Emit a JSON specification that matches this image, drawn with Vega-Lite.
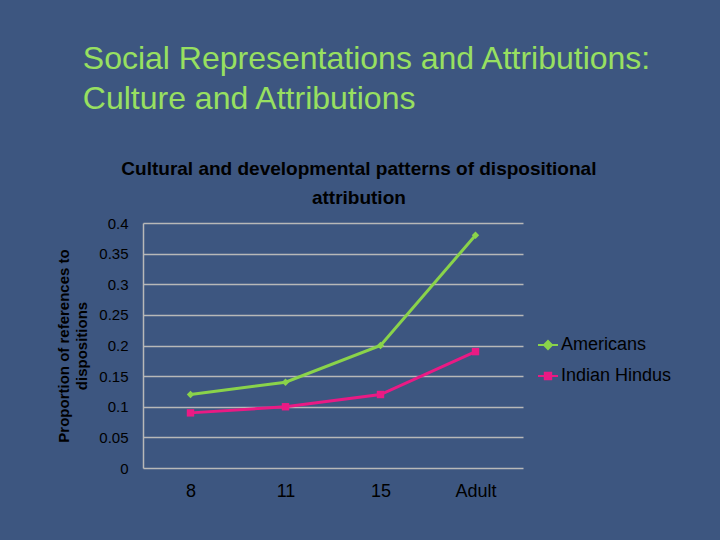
{
  "$schema": "https://vega.github.io/schema/vega-lite/v6.json",
  "description": "Cultural and developmental patterns of dispositional attribution",
  "background": "#3d5680",
  "padding": {"left": 56, "top": 43, "right": 51, "bottom": 41},
  "title": {
    "text": ["Social Representations and Attributions:", "Culture and Attributions"],
    "anchor": "start",
    "frame": "bounds",
    "font": "Liberation Sans",
    "fontSize": 32,
    "fontWeight": "normal",
    "color": "#98e060",
    "lineHeight": 40,
    "dx": 26,
    "offset": 44
  },
  "data": {
    "values": [
      {"age": "8", "group": "Americans", "proportion": 0.12},
      {"age": "11", "group": "Americans", "proportion": 0.14},
      {"age": "15", "group": "Americans", "proportion": 0.2},
      {"age": "Adult", "group": "Americans", "proportion": 0.38},
      {"age": "8", "group": "Indian Hindus", "proportion": 0.09},
      {"age": "11", "group": "Indian Hindus", "proportion": 0.1},
      {"age": "15", "group": "Indian Hindus", "proportion": 0.12},
      {"age": "Adult", "group": "Indian Hindus", "proportion": 0.19}
    ]
  },
  "vconcat": [
    {
      "title": {
        "text": ["Cultural and developmental patterns of dispositional", "attribution"],
        "anchor": "middle",
        "frame": "bounds",
        "font": "Liberation Sans",
        "fontSize": 19,
        "fontWeight": "bold",
        "color": "black",
        "lineHeight": 29,
        "dx": 69,
        "offset": 8
      },
      "width": 380,
      "height": 245,
      "encoding": {
        "x": {
          "field": "age",
          "type": "ordinal",
          "sort": ["8", "11", "15", "Adult"],
          "scale": {"padding": 0.5},
          "axis": {"title": null, "labelAngle": 0, "labelPadding": 14, "labelFontSize": 18, "ticks": false, "domain": false, "grid": false}
        },
        "y": {
          "field": "proportion",
          "type": "quantitative",
          "scale": {"domain": [0, 0.4], "nice": false},
          "axis": {
            "title": ["Proportion of references to", "dispositions"],
            "values": [0, 0.05, 0.1, 0.15, 0.2, 0.25, 0.3, 0.35, 0.4],
            "format": "~g",
            "ticks": false,
            "labelFontSize": 15,
            "labelPadding": 15,
            "titlePadding": 9,
            "titleFont": "Liberation Sans",
            "titleFontSize": 15,
            "titleFontWeight": "bold",
            "titleColor": "black",
            "titleLineHeight": 18
          }
        },
        "color": {
          "field": "group",
          "type": "nominal",
          "scale": {"domain": ["Americans", "Indian Hindus"], "range": ["#8ad34a", "#ea1a84"]},
          "legend": {
            "title": null,
            "orient": "none",
            "legendX": 394,
            "legendY": 111,
            "symbolSize": 400,
            "symbolType": "M-1,0L1,0M0,-0.4L0.4,0L0,0.4L-0.4,0Z",
            "symbolStrokeWidth": 2,
            "labelOffset": 2,
            "labelFontSize": 18,
            "rowPadding": 11,
            "encode": {
              "symbols": {
                "update": {
                  "shape": {"signal": "datum.value === 'Americans' ? 'M-1,0L1,0M0,-0.4L0.4,0L0,0.4L-0.4,0Z' : 'M-1,0L1,0M-0.32,-0.32L0.32,-0.32L0.32,0.32L-0.32,0.32Z'"},
                  "fill": {"signal": "datum.value === 'Americans' ? '#8ad34a' : '#ea1a84'"}
                }
              }
            }
          }
        }
      },
      "layer": [
        {"mark": {"type": "line", "strokeWidth": 3}},
        {
          "mark": {"type": "point", "filled": true, "opacity": 1, "size": 55},
          "encoding": {
            "shape": {
              "condition": {"test": "datum.group === 'Americans'", "value": "diamond"},
              "value": "square"
            }
          }
        }
      ]
    }
  ],
  "config": {
    "font": "Liberation Sans",
    "view": {"stroke": null},
    "axis": {
      "labelFont": "Liberation Sans",
      "labelFontSize": 15,
      "labelColor": "black",
      "gridColor": "#b8b8b8",
      "gridWidth": 1.5,
      "domainColor": "#b8b8b8",
      "domainWidth": 1.5
    },
    "legend": {
      "labelFont": "Liberation Sans",
      "labelFontSize": 18,
      "labelColor": "black"
    }
  }
}
